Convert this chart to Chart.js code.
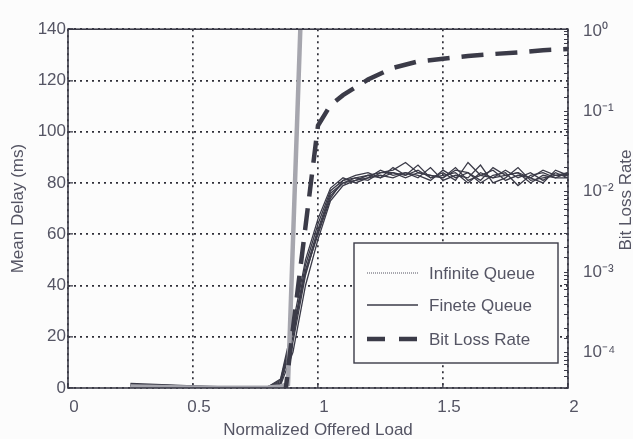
<!DOCTYPE html>
<html>
<head>
<meta charset="utf-8">
<script src="https://cdn.jsdelivr.net/npm/chart.js@4.4.0/dist/chart.umd.min.js"></script>
<style>
html, body { margin: 0; padding: 0; background: #fcfcfc; }
#wrap { width: 633px; height: 439px; }
</style>
</head>
<body>
<div id="wrap"><canvas id="myChart" width="633" height="439"></canvas></div>
<script>
// load values shared by every finite queue run
const finiteLoad = [0.25, 0.3, 0.4, 0.5, 0.6, 0.7, 0.8, 0.85, 0.9, 0.95, 1.0, 1.05, 1.1, 1.15, 1.2, 1.25, 1.3, 1.35, 1.4, 1.45, 1.5, 1.55, 1.6, 1.65, 1.7, 1.75, 1.8, 1.85, 1.9, 1.95, 2.0]
const finiteRun1 = [1.8, 1.6, 1.2, 0.8, 0.5, 0.3, 0.4, 2.5, 22, 48, 64, 77, 81, 82, 83, 84, 85, 88, 84, 83, 82, 85, 84, 81, 86, 83, 84, 82, 85, 83, 84]
const finiteRun2 = [0.6, 0.5, 0.4, 0.3, 0.2, 0.2, 0.6, 1.5, 18, 44, 61, 75, 80, 81, 83, 82, 86, 83, 85, 82, 84, 81, 88, 83, 82, 85, 82, 84, 81, 84, 82]
const finiteRun3 = [1.2, 1.1, 0.9, 0.6, 0.4, 0.3, 0.5, 3.5, 25, 50, 66, 78, 82, 80, 82, 85, 83, 84, 82, 86, 81, 83, 82, 87, 80, 82, 86, 81, 82, 83, 83]
const finiteRun4 = [1.0, 0.9, 0.7, 0.5, 0.3, 0.2, 0.3, 1.0, 14, 40, 58, 73, 79, 81, 82, 83, 82, 84, 83, 81, 85, 82, 84, 80, 83, 84, 79, 83, 84, 82, 82]
const finiteRun5 = [0.8, 0.7, 0.6, 0.4, 0.3, 0.2, 0.4, 2.0, 20, 46, 62, 76, 80, 82, 81, 84, 84, 82, 84, 83, 82, 86, 81, 83, 85, 81, 83, 82, 80, 85, 83]
const finiteRun6 = [1.5, 1.3, 1.0, 0.7, 0.4, 0.3, 0.5, 3.0, 23, 45, 60, 74, 81, 83, 84, 82, 84, 83, 87, 82, 83, 84, 80, 84, 82, 83, 84, 80, 83, 82, 84]

const infiniteLoad = [0.25, 0.3, 0.4, 0.5, 0.6, 0.7, 0.8, 0.85, 0.88, 0.93]
const infiniteDelay = [0.6, 0.5, 0.3, 0.2, 0.1, 0.1, 0.2, 0.6, 1.5, 142]

const lossLoad = [0.85, 0.9, 0.95, 1.0, 1.05, 1.1, 1.2, 1.3, 1.4, 1.5, 1.6, 1.7, 1.8, 1.9, 2.0]
const lossRate = [1e-5, 2e-4, 3.7e-3, 0.067, 0.12, 0.16, 0.25, 0.35, 0.42, 0.455, 0.49, 0.52, 0.545, 0.58, 0.6]

const xTicks = [0, 0.5, 1, 1.5, 2]
const xTickLabels = ['0', '0.5', '1', '1.5', '2']
const lossTickLabels = {'0': '10⁰', '-1': '10⁻¹', '-2': '10⁻²', '-3': '10⁻³', '-4': '10⁻⁴'}

const ink = '#3b3b48'
const textColor = '#555564'

function pts(xs, ys) {
    return xs.map((x, i) => ({x: x, y: ys[i]}))
}

let datasets = [
    {label: 'Bit Loss Rate', data: pts(lossLoad, lossRate), yAxisID: 'y2', borderColor: ink, borderWidth: 4.5, borderDash: [22, 12]},
    {label: 'Infinite Queue', data: pts(infiniteLoad, infiniteDelay), yAxisID: 'y', borderColor: '#a6a6ae', borderWidth: 4.5}
]
let runs = [finiteRun1, finiteRun2, finiteRun3, finiteRun4, finiteRun5, finiteRun6]
runs.forEach((run, i) => {
    datasets.push({label: i == 0 ? 'Finete Queue' : 'Finete Queue ' + (i + 1), data: pts(finiteLoad, run), yAxisID: 'y', borderColor: ink, borderWidth: 1.3})
})

// plot frame, legend box and right title are drawn by hand like the matlab figure
const framePlugin = {
    id: 'frame',
    afterDraw(chart) {
        const ctx = chart.ctx
        const a = chart.chartArea
        ctx.save()
        ctx.strokeStyle = ink
        ctx.lineWidth = 1.6
        ctx.strokeRect(a.left, a.top, a.right - a.left, a.bottom - a.top)

        // legend
        const box = {x: 354, y: 243, w: 204, h: 120}
        ctx.fillStyle = '#fcfcfc'
        ctx.fillRect(box.x, box.y, box.w, box.h)
        ctx.lineWidth = 1.4
        ctx.strokeRect(box.x, box.y, box.w, box.h)
        const order = ['Infinite Queue', 'Finete Queue', 'Bit Loss Rate']
        const rowsY = [273, 305, 339]
        ctx.font = '17px "Liberation Sans", Arial, sans-serif'
        ctx.textBaseline = 'middle'
        order.forEach((name, k) => {
            const ds = chart.data.datasets.find(d => d.label == name)
            const y = rowsY[k]
            ctx.beginPath()
            if (name == 'Infinite Queue') {
                ctx.strokeStyle = '#8a8a94'; ctx.lineWidth = 1.4; ctx.setLineDash([1, 1])
            } else if (name == 'Bit Loss Rate') {
                ctx.strokeStyle = ink; ctx.lineWidth = 4.5; ctx.setLineDash([18, 14])
            } else {
                ctx.strokeStyle = ink; ctx.lineWidth = 1.3; ctx.setLineDash([])
            }
            ctx.moveTo(367, y)
            ctx.lineTo(418, y)
            ctx.stroke()
            ctx.setLineDash([])
            ctx.fillStyle = textColor
            ctx.textAlign = 'left'
            ctx.fillText(ds.label, 429, y + 1)
        })

        // right axis title, reading bottom to top
        ctx.translate(626, 200)
        ctx.rotate(-Math.PI / 2)
        ctx.textAlign = 'center'
        ctx.fillText('Bit Loss Rate', 0, 0)
        ctx.restore()
    }
}

const ctx = document.getElementById('myChart')
const myChart = new Chart(ctx, {
    type: 'line',
    data: {datasets: datasets},
    options: {
        responsive: false,
        animation: false,
        layout: {padding: {top: 22, left: 0, right: 0, bottom: 0}},
        elements: {point: {radius: 0}, line: {tension: 0}},
        plugins: {legend: {display: false}, tooltip: {enabled: false}},
        scales: {
            x: {
                type: 'linear', min: 0, max: 2,
                afterBuildTicks: s => { s.ticks = xTicks.map(v => ({value: v})) },
                afterFit: s => { s.height = 51 },
                grid: {color: '#2f2f38', lineWidth: 1.7, drawTicks: true, tickLength: -5, tickColor: ink, tickWidth: 1.3},
                border: {display: false, dash: [2, 4]},
                ticks: {
                    color: textColor, font: {size: 17}, padding: 14, labelOffset: 6, maxRotation: 0,
                    callback: (v, i) => xTickLabels[i]
                },
                title: {display: true, text: 'Normalized Offered Load', color: textColor, font: {size: 17, lineHeight: 1}, padding: {top: 0, bottom: 0}}
            },
            y: {
                type: 'linear', position: 'left', min: 0, max: 140,
                afterFit: s => { s.width = 68 },
                grid: {color: '#2f2f38', lineWidth: 1.7, drawTicks: true, tickLength: -5, tickColor: ink, tickWidth: 1.3},
                border: {display: false, dash: [2, 4]},
                ticks: {stepSize: 20, color: textColor, font: {size: 17}, padding: 7},
                title: {display: true, text: 'Mean Delay (ms)', color: textColor, font: {size: 17}, padding: {top: 8}}
            },
            y2: {
                type: 'logarithmic', position: 'right', min: 3.6e-5, max: 1.06,
                afterFit: s => { s.width = 65 },
                grid: {drawOnChartArea: false, drawTicks: true, tickLength: -4, tickColor: ink, tickWidth: 1},
                border: {display: false},
                ticks: {
                    autoSkip: false, color: textColor, font: {size: 17}, padding: 19,
                    callback: v => {
                        const p = Math.log10(v)
                        if (Math.abs(p - Math.round(p)) < 1e-9) return lossTickLabels[String(Math.round(p))] || ''
                        return ''
                    }
                }
            }
        }
    },
    plugins: [framePlugin]
})
</script>
</body>
</html>
